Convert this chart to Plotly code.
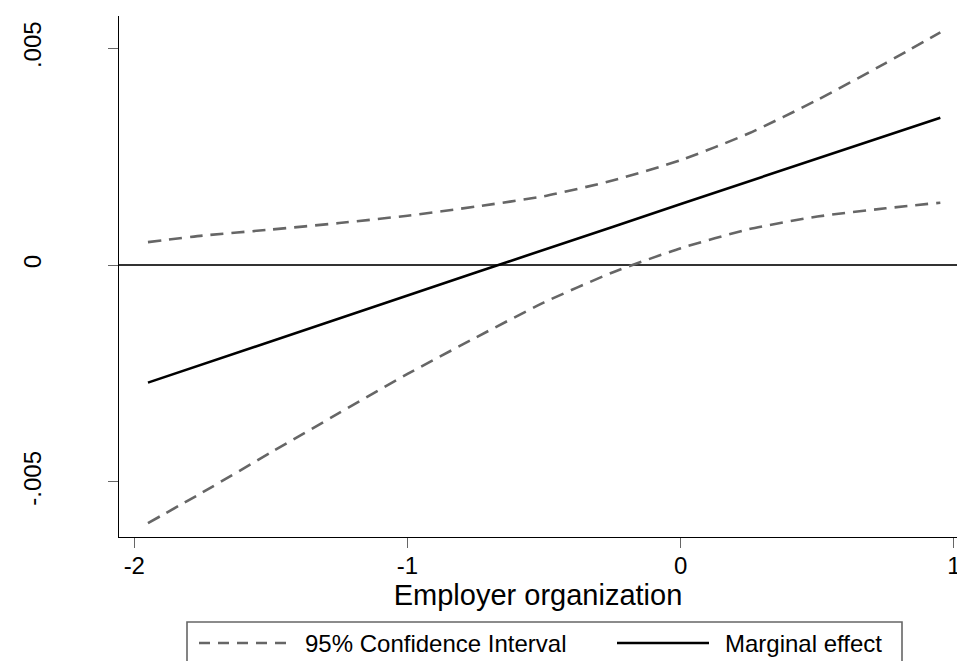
import plotly.graph_objects as go

# ---- data ----
x_vals = [-1.95, -1.75, -1.5, -1.25, -1.0, -0.75, -0.5, -0.25, 0.0, 0.25, 0.5, 0.75, 0.95]
marginal = [-0.00271, -0.00229, -0.00176, -0.00123, -0.00070, -0.00017, 0.00035, 0.00088,
            0.00141, 0.00193, 0.00246, 0.00298, 0.00340]
ci_upper = [0.00053, 0.00068, 0.00082, 0.00097, 0.00114, 0.00135, 0.00159, 0.00195,
            0.00242, 0.00304, 0.00381, 0.00466, 0.00537]
ci_lower = [-0.00595, -0.00524, -0.00432, -0.00341, -0.00251, -0.00167, -0.00086, -0.00017,
            0.00039, 0.00083, 0.00112, 0.00131, 0.00144]

x_ticks = [-2, -1, 0, 1]
x_tick_text = ["-2", "-1", "0", "1"]
y_ticks = [-0.005, 0, 0.005]
y_tick_text = ["-.005", "0", ".005"]

x_title = "Employer organization"
legend_ci = "95% Confidence Interval"
legend_me = "Marginal effect"

FONT = "Liberation Sans, Arial, Helvetica, sans-serif"
GRAY = "rgb(102,102,102)"

W, H = 957, 661
ML, MT, MB = 119, 16, 124
PW, PH = W - ML, H - MT - MB


def px_x(p):  # reference pixel x -> paper fraction
    return (p - ML) / PW


def px_y(p):  # reference pixel y -> paper fraction
    return (H - MB - p) / PH


fig = go.Figure()
fig.add_trace(go.Scatter(x=x_vals, y=ci_upper, mode="lines", name=legend_ci,
                         line=dict(color=GRAY, width=2.6, dash="13px,8px", shape="spline", smoothing=0.6),
                         showlegend=False, hoverinfo="skip"))
fig.add_trace(go.Scatter(x=x_vals, y=ci_lower, mode="lines", name=legend_ci,
                         line=dict(color=GRAY, width=2.6, dash="13px,8px", shape="spline", smoothing=0.6),
                         showlegend=False, hoverinfo="skip"))
fig.add_trace(go.Scatter(x=x_vals, y=marginal, mode="lines", name=legend_me,
                         line=dict(color="black", width=2.6),
                         showlegend=False))

# ---- manual Stata-style legend box ----
fig.add_shape(type="rect", xref="paper", yref="paper",
              x0=px_x(187), x1=px_x(902), y0=px_y(680), y1=px_y(622),
              line=dict(color=GRAY, width=1.6), fillcolor="white", layer="above")
ly = px_y(643)
fig.add_shape(type="line", xref="paper", yref="paper",
              x0=px_x(199), x1=px_x(290), y0=ly, y1=ly,
              line=dict(color=GRAY, width=2.4, dash="11px,8px"))
fig.add_shape(type="line", xref="paper", yref="paper",
              x0=px_x(617), x1=px_x(709), y0=ly, y1=ly,
              line=dict(color="black", width=2.4))
fig.add_annotation(xref="paper", yref="paper", x=px_x(303), y=ly,
                   text=legend_ci, showarrow=False, xanchor="left", yanchor="middle",
                   font=dict(family=FONT, size=24, color="black"))
fig.add_annotation(xref="paper", yref="paper", x=px_x(723), y=ly,
                   text=legend_me, showarrow=False, xanchor="left", yanchor="middle",
                   font=dict(family=FONT, size=24, color="black"))

fig.update_layout(
    width=W, height=H,
    margin=dict(l=ML, r=0, t=MT, b=MB, autoexpand=False),
    paper_bgcolor="white", plot_bgcolor="white",
    font=dict(family=FONT, size=24, color="black"),
    xaxis=dict(range=[-2.056, 1.011], tickvals=x_ticks, ticktext=x_tick_text,
               showline=True, linecolor="black", linewidth=1.4, mirror=False,
               ticks="outside", ticklen=10, tickwidth=1.4, tickcolor=GRAY,
               showgrid=False, zeroline=False, automargin=False,
               tickfont=dict(size=24), ticklabelstandoff=-3, ticklabeloverflow="allow",
               title=dict(text=x_title, font=dict(size=29), standoff=0)),
    yaxis=dict(range=[-0.00627, 0.005745], tickvals=y_ticks, ticktext=y_tick_text,
               showline=True, linecolor="black", linewidth=1.4, automargin=False,
               ticks="outside", ticklen=10, tickwidth=1.4, tickcolor=GRAY,
               showgrid=False, zeroline=True, zerolinecolor="rgb(50,50,50)", zerolinewidth=2.2,
               tickangle=-90, tickfont=dict(size=24), ticklabelstandoff=57),
)

fig.write_html(
    "out.html",
    config={"displayModeBar": False},
    post_script="document.documentElement.style.overflow='hidden';"
                "document.body.style.margin='0';document.body.style.overflow='hidden';",
)
